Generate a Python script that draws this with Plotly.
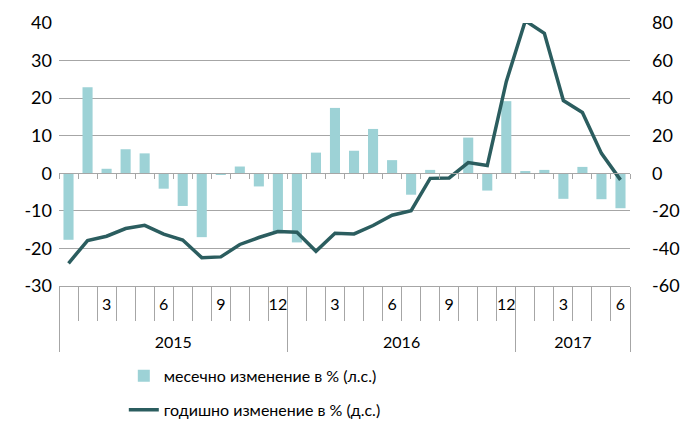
import plotly.graph_objects as go

YEARS = ["2015"] * 12 + ["2016"] * 12 + ["2017"] * 6
MONTH_LABELS = ["", "", "3", "", "", "6", "", "", "9", "", "", "12",
                "", "", "3", "", "", "6", "", "", "9", "", "", "12",
                "", "", "3", "", "", "6"]

# месечно изменение в % (л.с.)
MONTHLY = [-17.7, 22.9, 1.2, 6.4, 5.3, -4.1, -8.7, -17.0, -0.2, 1.8, -3.5, -15.6,
           -18.4, 5.5, 17.4, 6.0, 11.8, 3.5, -5.7, 0.9, 0.0, 9.5, -4.6, 19.2,
           0.6, 0.9, -6.8, 1.7, -6.9, -9.3]
# годишно изменение в % (д.с.)
ANNUAL = [-47.9, -35.8, -33.5, -29.4, -27.7, -32.4, -35.5, -44.9, -44.5, -37.9, -34.2, -31.0,
          -31.4, -41.5, -31.9, -32.3, -27.8, -22.3, -19.9, -2.7, -2.5, 5.7, 4.1, 48.8,
          81.2, 74.5, 38.7, 32.4, 10.6, -3.5]

LEFT_TICKS = [-30, -20, -10, 0, 10, 20, 30, 40]
RIGHT_TICKS = [-60, -40, -20, 0, 20, 40, 60, 80]

BAR_COLOR = "#9dd2d6"
LINE_COLOR = "#2b5d5f"
GRID = "#a6a6a6"
FONT = dict(family="Lato, 'Open Sans', sans-serif", size=16, color="#000000")

# inner categories must be unique over the whole axis to keep their order:
# pad every label with zero-width spaces; the empty second line pushes the
# year row further down
inner = [lab + "\u200b" * (i + 1) + "<br>\u200b" for i, lab in enumerate(MONTH_LABELS)]
idx = list(range(len(MONTHLY)))

fig = go.Figure()
fig.add_trace(go.Bar(
    x=[YEARS, inner], y=MONTHLY, name="месечно изменение в % (л.с.)",
    marker=dict(color=BAR_COLOR, line=dict(width=0)), legend="legend",
))
fig.add_trace(go.Scatter(
    x=idx, y=ANNUAL, name="годишно изменение в % (д.с.)", mode="lines",
    line=dict(color=LINE_COLOR, width=3.5), xaxis="x2", yaxis="y2", legend="legend2",
))

fig.update_layout(
    width=680, height=423,
    margin=dict(l=59, r=50, t=23, b=137, autoexpand=False),
    paper_bgcolor="white", plot_bgcolor="white",
    font=FONT, bargap=0.47, showlegend=True,
    xaxis=dict(
        type="multicategory", showline=True, linecolor=GRID, linewidth=1,
        tickmode="linear", dtick=1,
        ticks="outside", ticklen=34, tickcolor=GRID, tickson="boundaries",
        showdividers=True, dividercolor=GRID, dividerwidth=1, tickangle=0,
        showgrid=False, tickfont=dict(size=16), ticklabelstandoff=4,
        automargin=False,
    ),
    xaxis2=dict(
        overlaying="x", anchor="free", position=30 / 70, range=[-0.5, 29.5],
        tickmode="linear", tick0=-0.5, dtick=1, ticks="outside", ticklen=5,
        tickcolor=GRID, showticklabels=False, showline=True, linecolor=GRID,
        showgrid=False, zeroline=False,
    ),
    yaxis=dict(
        range=[-30, 40], tickvals=LEFT_TICKS, ticktext=[str(v) for v in LEFT_TICKS],
        showgrid=True, gridcolor=GRID, gridwidth=1, automargin=False,
        zeroline=False, ticks="", tickfont=dict(size=18), ticklabelstandoff=6,
    ),
    yaxis2=dict(
        overlaying="y", side="right", range=[-60, 80], automargin=False,
        tickvals=RIGHT_TICKS, ticktext=[str(v) for v in RIGHT_TICKS],
        showgrid=False, zeroline=False, tickfont=dict(size=18), ticklabelstandoff=21,
    ),
    legend=dict(x=0.1135, xanchor="left", y=-0.342, yanchor="middle",
                bgcolor="rgba(0,0,0,0)", font=dict(size=16)),
    legend2=dict(x=0.1135, xanchor="left", y=-0.471, yanchor="middle",
                 bgcolor="rgba(0,0,0,0)", font=dict(size=16)),
)

# drop the browser's default body margin so the figure starts at the corner
fig.write_html("out.html", config={"displayModeBar": False},
               post_script="document.body.style.margin='0';")
